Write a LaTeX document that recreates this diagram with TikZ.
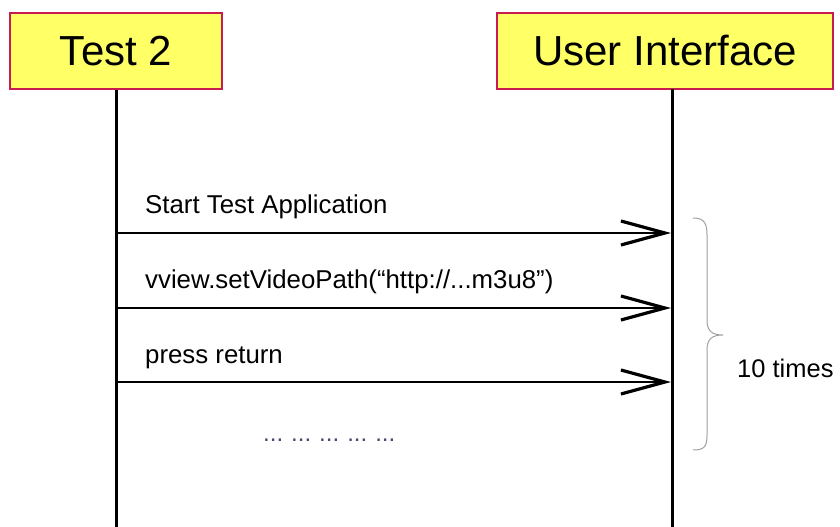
\documentclass[tikz,border=0pt]{standalone}
\usepackage{fontspec}
\setmainfont{Liberation Sans}
\usetikzlibrary{arrows.meta}
\definecolor{boxfill}{RGB}{255,255,102}
\definecolor{boxline}{RGB}{200,28,80}
\definecolor{bracegray}{RGB}{160,160,160}
\definecolor{dotcol}{RGB}{70,70,110}
\tikzset{
  actor/.style={draw=boxline, line width=2pt, fill=boxfill, inner sep=0pt,
    font=\fontsize{42}{46}\selectfont},
  lifeline/.style={line width=3pt, black},
  msg/.style={line width=1.5pt, black,
    -{Straight Barb[length=44pt, width=24pt, line width=3.2pt]}},
  msglabel/.style={anchor=base west, inner sep=0pt, font=\fontsize{25.8}{28}\selectfont},
  note/.style={anchor=base west, inner sep=0pt, font=\fontsize{25.5}{28}\selectfont}
}
\begin{document}
\begin{tikzpicture}[x=1pt, y=-1pt]
\useasboundingbox (0,0) rectangle (840,527);

% participants
\node[actor, minimum width=212pt, minimum height=76pt] (t2) at (116,51) {Test 2};
\node[actor, minimum width=336pt, minimum height=76pt] (ui) at (665,51) {User Interface};

% lifeline ends
\coordinate (t2end) at (116,527);
\coordinate (uiend) at (672,527);
\draw[lifeline] (t2.south) -- (t2end);
\draw[lifeline] (672,89) -- (uiend);

% message rows
\coordinate (a1) at (116,233); \coordinate (b1) at (671,233);
\coordinate (a2) at (116,308); \coordinate (b2) at (671,308);
\coordinate (a3) at (116,382); \coordinate (b3) at (671,382);
\draw[msg] (a1) -- (b1);
\draw[msg] (a2) -- (b2);
\draw[msg] (a3) -- (b3);

\node[msglabel] (m1) at (145,213) {Start Test Application};
\node[msglabel] (m2) at (145,288) {vview.setVideoPath(“http://...m3u8”)};
\node[msglabel] (m3) at (145,363) {press return};
\node[anchor=base west, inner sep=0pt, text=dotcol,
  font=\fontsize{24}{28}\selectfont] (dots) at (263,441) {...\,\,...\,\,...\,\,...\,\,...};

% repetition brace
\draw[bracegray, line width=1pt]
  (693,218) .. controls (704,218) and (707,223) .. (707,235)
  -- (707,320) .. controls (707,331) and (712,335) .. (723,335)
  .. controls (712,335) and (707,339) .. (707,350)
  -- (707,435) .. controls (707,447) and (704,450) .. (693,450);
\node[note] (rep) at (737,377) {10 times};
\end{tikzpicture}
\end{document}
